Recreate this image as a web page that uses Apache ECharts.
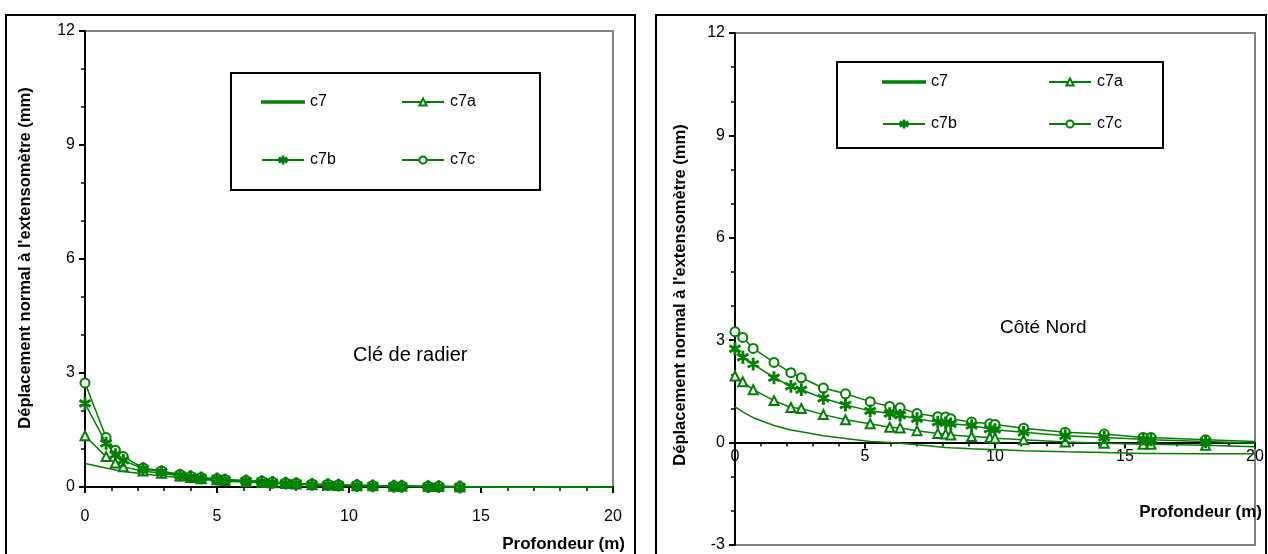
<!DOCTYPE html>
<html><head><meta charset="utf-8">
<script src="https://cdn.jsdelivr.net/npm/echarts@6/dist/echarts.min.js"></script>
<style>html,body{margin:0;padding:0;background:#fff}#c{width:1268px;height:554px}</style>
</head><body><div id="c"></div>
<script>
// ---- data: left chart "Clé de radier"
const depthLeft = [0, 0.8, 1.15, 1.45, 2.2, 2.9, 3.6, 4.0, 4.4, 5.0, 5.3, 6.1, 6.7, 7.1, 7.6, 8.0, 8.6, 9.2, 9.6, 10.3, 10.9, 11.7, 12.0, 13.0, 13.4, 14.2, 20];
const leftC7  = [0.62, 0.50, 0.45, 0.41, 0.35, 0.29, 0.25, 0.22, 0.20, 0.17, 0.15, 0.13, 0.11, 0.10, 0.08, 0.07, 0.06, 0.05, 0.04, 0.03, 0.02, 0.01, 0.01, 0.00, 0.00, -0.01, -0.03];
const leftC7a = [1.35, 0.80, 0.63, 0.53, 0.42, 0.36, 0.29, 0.25, 0.22, 0.19, 0.17, 0.14, 0.12, 0.11, 0.09, 0.08, 0.06, 0.05, 0.04, 0.03, 0.03, 0.02, 0.02, 0.01, 0.01, 0.00, -0.02];
const leftC7b = [2.20, 1.15, 0.85, 0.70, 0.48, 0.40, 0.31, 0.27, 0.24, 0.21, 0.19, 0.16, 0.14, 0.12, 0.10, 0.09, 0.07, 0.06, 0.05, 0.04, 0.03, 0.02, 0.02, 0.01, 0.01, 0.00, -0.01];
const leftC7c = [2.74, 1.30, 0.97, 0.80, 0.50, 0.42, 0.33, 0.28, 0.25, 0.22, 0.20, 0.17, 0.15, 0.13, 0.11, 0.10, 0.08, 0.07, 0.06, 0.05, 0.04, 0.03, 0.03, 0.02, 0.02, 0.01, 0.00];
// ---- data: right chart "Côté Nord"
const depthRight = [0, 0.3, 0.7, 1.5, 2.15, 2.55, 3.4, 4.25, 5.2, 5.95, 6.35, 7.0, 7.8, 8.1, 8.3, 9.1, 9.8, 10.0, 11.1, 12.7, 14.2, 15.7, 16.0, 18.1, 20];
const rightC7  = [1.05, 0.90, 0.73, 0.50, 0.37, 0.32, 0.20, 0.12, 0.03, 0.00, -0.02, -0.06, -0.12, -0.14, -0.15, -0.18, -0.20, -0.20, -0.24, -0.27, -0.29, -0.32, -0.32, -0.33, -0.33];
const rightC7a = [1.95, 1.78, 1.55, 1.23, 1.03, 1.00, 0.82, 0.67, 0.55, 0.45, 0.43, 0.35, 0.27, 0.25, 0.22, 0.18, 0.15, 0.13, 0.08, 0.02, -0.02, -0.05, -0.05, -0.08, -0.12];
const rightC7b = [2.75, 2.50, 2.30, 1.90, 1.65, 1.55, 1.30, 1.10, 0.93, 0.85, 0.80, 0.70, 0.60, 0.58, 0.55, 0.50, 0.40, 0.38, 0.30, 0.20, 0.15, 0.10, 0.08, 0.03, -0.02];
const rightC7c = [3.25, 3.08, 2.76, 2.35, 2.05, 1.90, 1.60, 1.43, 1.20, 1.06, 1.02, 0.85, 0.76, 0.75, 0.70, 0.60, 0.55, 0.53, 0.42, 0.30, 0.25, 0.15, 0.15, 0.08, 0.03];
const seriesNames = ['c7', 'c7a', 'c7b', 'c7c'];
const xTicks = [0, 5, 10, 15, 20];
const yTicksLeft = [0, 3, 6, 9, 12];
const yTicksRight = [-3, 0, 3, 6, 9, 12];
const xTitle = 'Profondeur (m)';
const yTitle = "Déplacement normal à l'extensomètre (mm)";
const noteLeft = 'Clé de radier';
const noteRight = 'Côté Nord';

const FONT = '"Liberation Sans", Arial, sans-serif';
const GREEN = '#008000';
const STAR = 'path://M-1,-10L1,-10L1,10L-1,10Z M-9.16,-4.13L8.16,5.87L9.16,4.13L-8.16,-5.87Z M-8.16,5.87L9.16,-4.13L8.16,-5.87L-9.16,4.13Z';
const symbols = {c7: 'none', c7a: 'emptyTriangle', c7b: STAR, c7c: 'emptyCircle'};
const sizes = {c7: 0, c7a: 9, c7b: 11, c7c: 9};
const zs = {c7: 2, c7a: 3, c7b: 5, c7c: 4};

function mk(name, xs, ys, gi) {
  const last = xs.length - 1;
  return {
    name, type: 'line', xAxisIndex: gi, yAxisIndex: gi,
    data: xs.map((x, i) => [x, ys[i]]),
    symbol: symbols[name],
    symbolSize: (v, p) => (p.dataIndex === last ? 0 : sizes[name]),
    showSymbol: name !== 'c7',
    symbolKeepAspect: true,
    lineStyle: {color: GREEN, width: 1.5},
    itemStyle: {color: GREEN, borderColor: GREEN, borderWidth: 1.8},
    emphasis: {disabled: true},
    animation: false, z: zs[name]
  };
}

// right plot: grid height and y range, to move the x axis onto y = 0
const RIGHT_H = 512, RIGHT_MIN = -3, Y_MAX = 12;
const rightXOffset = -RIGHT_H * (0 - RIGHT_MIN) / (Y_MAX - RIGHT_MIN);

function xAxis(gi, labelMargin, offset) {
  return {
    type: 'value', gridIndex: gi, min: 0, max: 20, interval: 5, position: 'bottom', offset: offset,
    axisLine: {onZero: false, lineStyle: {color: '#000', width: 2}},
    axisTick: {show: true, length: 6, lineStyle: {color: '#000', width: 2}},
    minorTick: {show: true, splitNumber: 5, length: 4, lineStyle: {color: '#000', width: 1.5}},
    splitLine: {show: false},
    axisLabel: {color: '#000', fontSize: 16, fontFamily: FONT, margin: labelMargin,
      formatter: v => (xTicks.includes(v) ? String(v) : '')}
  };
}
function yAxis(gi, min, ticks) {
  return {
    type: 'value', gridIndex: gi, min: min, max: Y_MAX, interval: 3,
    axisLine: {onZero: false, lineStyle: {color: '#000', width: 2}},
    axisTick: {show: true, length: 6, lineStyle: {color: '#000', width: 2}},
    minorTick: {show: true, splitNumber: 3, length: 4, lineStyle: {color: '#000', width: 1.5}},
    splitLine: {show: false},
    axisLabel: {color: '#000', fontSize: 16, fontFamily: FONT, margin: 10,
      formatter: v => (ticks.includes(v) ? String(v) : '')}
  };
}

const legPos = [
  {n: 'c7', l: 261, t: 103}, {n: 'c7a', l: 401, t: 103}, {n: 'c7b', l: 261, t: 161}, {n: 'c7c', l: 401, t: 161},
  {n: 'c7', l: 882, t: 83}, {n: 'c7a', l: 1048, t: 83}, {n: 'c7b', l: 882, t: 125}, {n: 'c7c', l: 1048, t: 125}
];
const legends = legPos.map(p => ({
  data: [p.n], left: p.l, top: p.t - 9, padding: 0, itemWidth: 42,
  itemHeight: p.n === 'c7' ? 1.3 : 9, icon: p.n === 'c7' ? 'rect' : undefined, itemGap: 0,
  selectedMode: false, textStyle: {fontSize: 16, fontFamily: FONT, color: '#000', padding: [0, 0, 0, 1]}
}));

const chart = echarts.init(document.getElementById('c'), null, {renderer: 'canvas'});
chart.setOption({
  backgroundColor: '#fff',
  animation: false,
  grid: [
    {left: 85, top: 31, width: 528, height: 456, show: true, borderColor: '#808080', borderWidth: 2, backgroundColor: 'transparent'},
    {left: 735, top: 33, width: 520, height: RIGHT_H, show: true, borderColor: '#808080', borderWidth: 2, backgroundColor: 'transparent'}
  ],
  xAxis: [xAxis(0, 22, 0), xAxis(1, 6, rightXOffset)],
  yAxis: [yAxis(0, 0, yTicksLeft), yAxis(1, RIGHT_MIN, yTicksRight)],
  legend: legends,
  series: [
    mk('c7', depthLeft, leftC7, 0), mk('c7a', depthLeft, leftC7a, 0), mk('c7b', depthLeft, leftC7b, 0), mk('c7c', depthLeft, leftC7c, 0),
    mk('c7', depthRight, rightC7, 1), mk('c7a', depthRight, rightC7a, 1), mk('c7b', depthRight, rightC7b, 1), mk('c7c', depthRight, rightC7c, 1)
  ],
  graphic: [
    {type: 'rect', shape: {x: 6, y: 15, width: 629, height: 560}, style: {fill: null, stroke: '#000', lineWidth: 2}, silent: true, z: 0},
    {type: 'rect', shape: {x: 656, y: 15, width: 610, height: 560}, style: {fill: null, stroke: '#000', lineWidth: 2}, silent: true, z: 0},
    {type: 'rect', shape: {x: 231, y: 73, width: 309, height: 117}, style: {fill: null, stroke: '#000', lineWidth: 2}, silent: true, z: 1},
    {type: 'rect', shape: {x: 837, y: 62, width: 326, height: 86}, style: {fill: null, stroke: '#000', lineWidth: 2}, silent: true, z: 1},
    {type: 'text', x: 25, y: 258, rotation: Math.PI / 2, style: {text: yTitle, font: 'bold 16.5px ' + FONT, fill: '#000', align: 'center', verticalAlign: 'middle'}, silent: true},
    {type: 'text', x: 680, y: 295, rotation: Math.PI / 2, style: {text: yTitle, font: 'bold 16.5px ' + FONT, fill: '#000', align: 'center', verticalAlign: 'middle'}, silent: true},
    {type: 'text', x: 625, y: 544, style: {text: xTitle, font: 'bold 17px ' + FONT, fill: '#000', align: 'right', verticalAlign: 'middle'}, silent: true},
    {type: 'text', x: 1262, y: 512, style: {text: xTitle, font: 'bold 17px ' + FONT, fill: '#000', align: 'right', verticalAlign: 'middle'}, silent: true},
    {type: 'text', x: 353, y: 355, style: {text: noteLeft, font: '20px ' + FONT, fill: '#000', align: 'left', verticalAlign: 'middle'}, silent: true},
    {type: 'text', x: 1000, y: 328, style: {text: noteRight, font: '19px ' + FONT, fill: '#000', align: 'left', verticalAlign: 'middle'}, silent: true}
  ]
});
</script>
</body></html>
